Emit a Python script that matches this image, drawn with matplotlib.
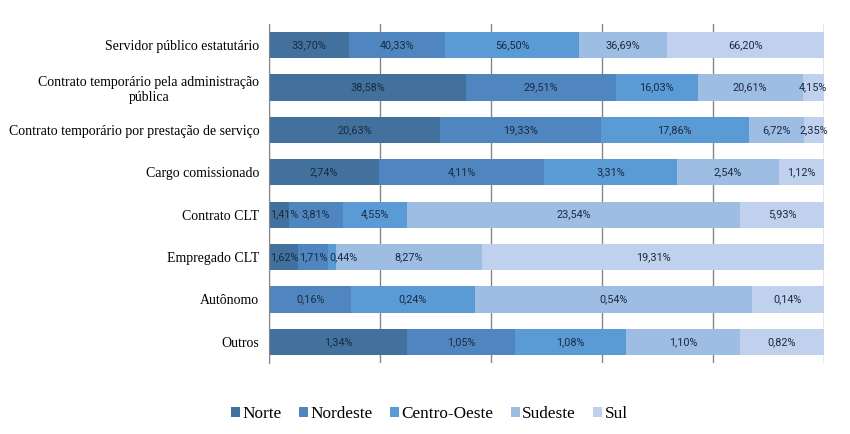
import matplotlib.pyplot as plt
import numpy as np

categorias = ["Servidor público estatutário",
              "Contrato temporário pela administração\npública",
              "Contrato temporário por prestação de serviço",
              "Cargo comissionado",
              "Contrato CLT",
              "Empregado CLT",
              "Autônomo",
              "Outros"]
regioes = ["Norte", "Nordeste", "Centro-Oeste", "Sudeste", "Sul"]

norte = [33.70, 38.58, 20.63, 2.74, 1.41, 1.62, 0.00, 1.34]
nordeste = [40.33, 29.51, 19.33, 4.11, 3.81, 1.71, 0.16, 1.05]
centro_oeste = [56.50, 16.03, 17.86, 3.31, 4.55, 0.44, 0.24, 1.08]
sudeste = [36.69, 20.61, 6.72, 2.54, 23.54, 8.27, 0.54, 1.10]
sul = [66.20, 4.15, 2.35, 1.12, 5.93, 19.31, 0.14, 0.82]

cores = ["#41719c", "#4f86bf", "#5b9bd5", "#9dbde3", "#bfd1ec"]

dados = np.array([norte, nordeste, centro_oeste, sudeste, sul])
frac = dados / dados.sum(axis=0)

fig = plt.figure(figsize=(8.5, 4.34), dpi=100)
ax = fig.add_axes([0.3165, 0.1636, 0.6529, 0.7811])

y = np.arange(len(categorias))
esq = np.zeros(len(categorias))
rotulos = [[] for _ in categorias]
for i, reg in enumerate(regioes):
    ax.barh(y, frac[i], left=esq, height=0.62, color=cores[i], label=reg, zorder=2)
    for j in range(len(categorias)):
        if dados[i, j] > 0:
            t = ax.text(esq[j] + frac[i, j] / 2, y[j], ("%.2f%%" % dados[i, j]).replace(".", ","),
                        ha="center", va="center", fontsize=7.8, color="#1b2a40",
                        family="Roboto", zorder=3)
            rotulos[j].append(t)
    esq += frac[i]

ax.set_xlim(0, 1)
ax.set_ylim(len(categorias) - 0.5, -0.5)
ax.set_yticks(y)
ax.set_yticklabels(categorias, family="Liberation Serif", fontsize=10,
                   ha="right", multialignment="center")
ax.tick_params(axis="y", length=0, pad=7)
ax.set_xticks(np.linspace(0, 1, 6))
ax.set_xticklabels([])
ax.tick_params(axis="x", length=0)
ax.grid(axis="x", color="#868686", linewidth=1, zorder=0)
for s in ["top", "right", "bottom"]:
    ax.spines[s].set_visible(False)
ax.spines["left"].set_color("#868686")

fig.legend(loc="center", bbox_to_anchor=(0.505, 0.046), ncol=5, frameon=False,
           prop={"family": "Liberation Serif", "size": 12.4},
           handlelength=0.52, handleheight=0.52, handletextpad=0.15, columnspacing=1.0)

# push small labels right so they don't sit on top of each other
fig.canvas.draw()
r = fig.canvas.get_renderer()
axbb = ax.get_window_extent(r)
for linha in rotulos:
    limite = axbb.x0 + 1
    for t in linha:
        bb = t.get_window_extent(r)
        d = max(0, limite - bb.x0)
        if d > 0:
            x0, y0 = t.get_position()
            t.set_x(x0 + d / axbb.width)
        limite = bb.x1 + d + 1

fig.savefig("out.png", dpi=100)
